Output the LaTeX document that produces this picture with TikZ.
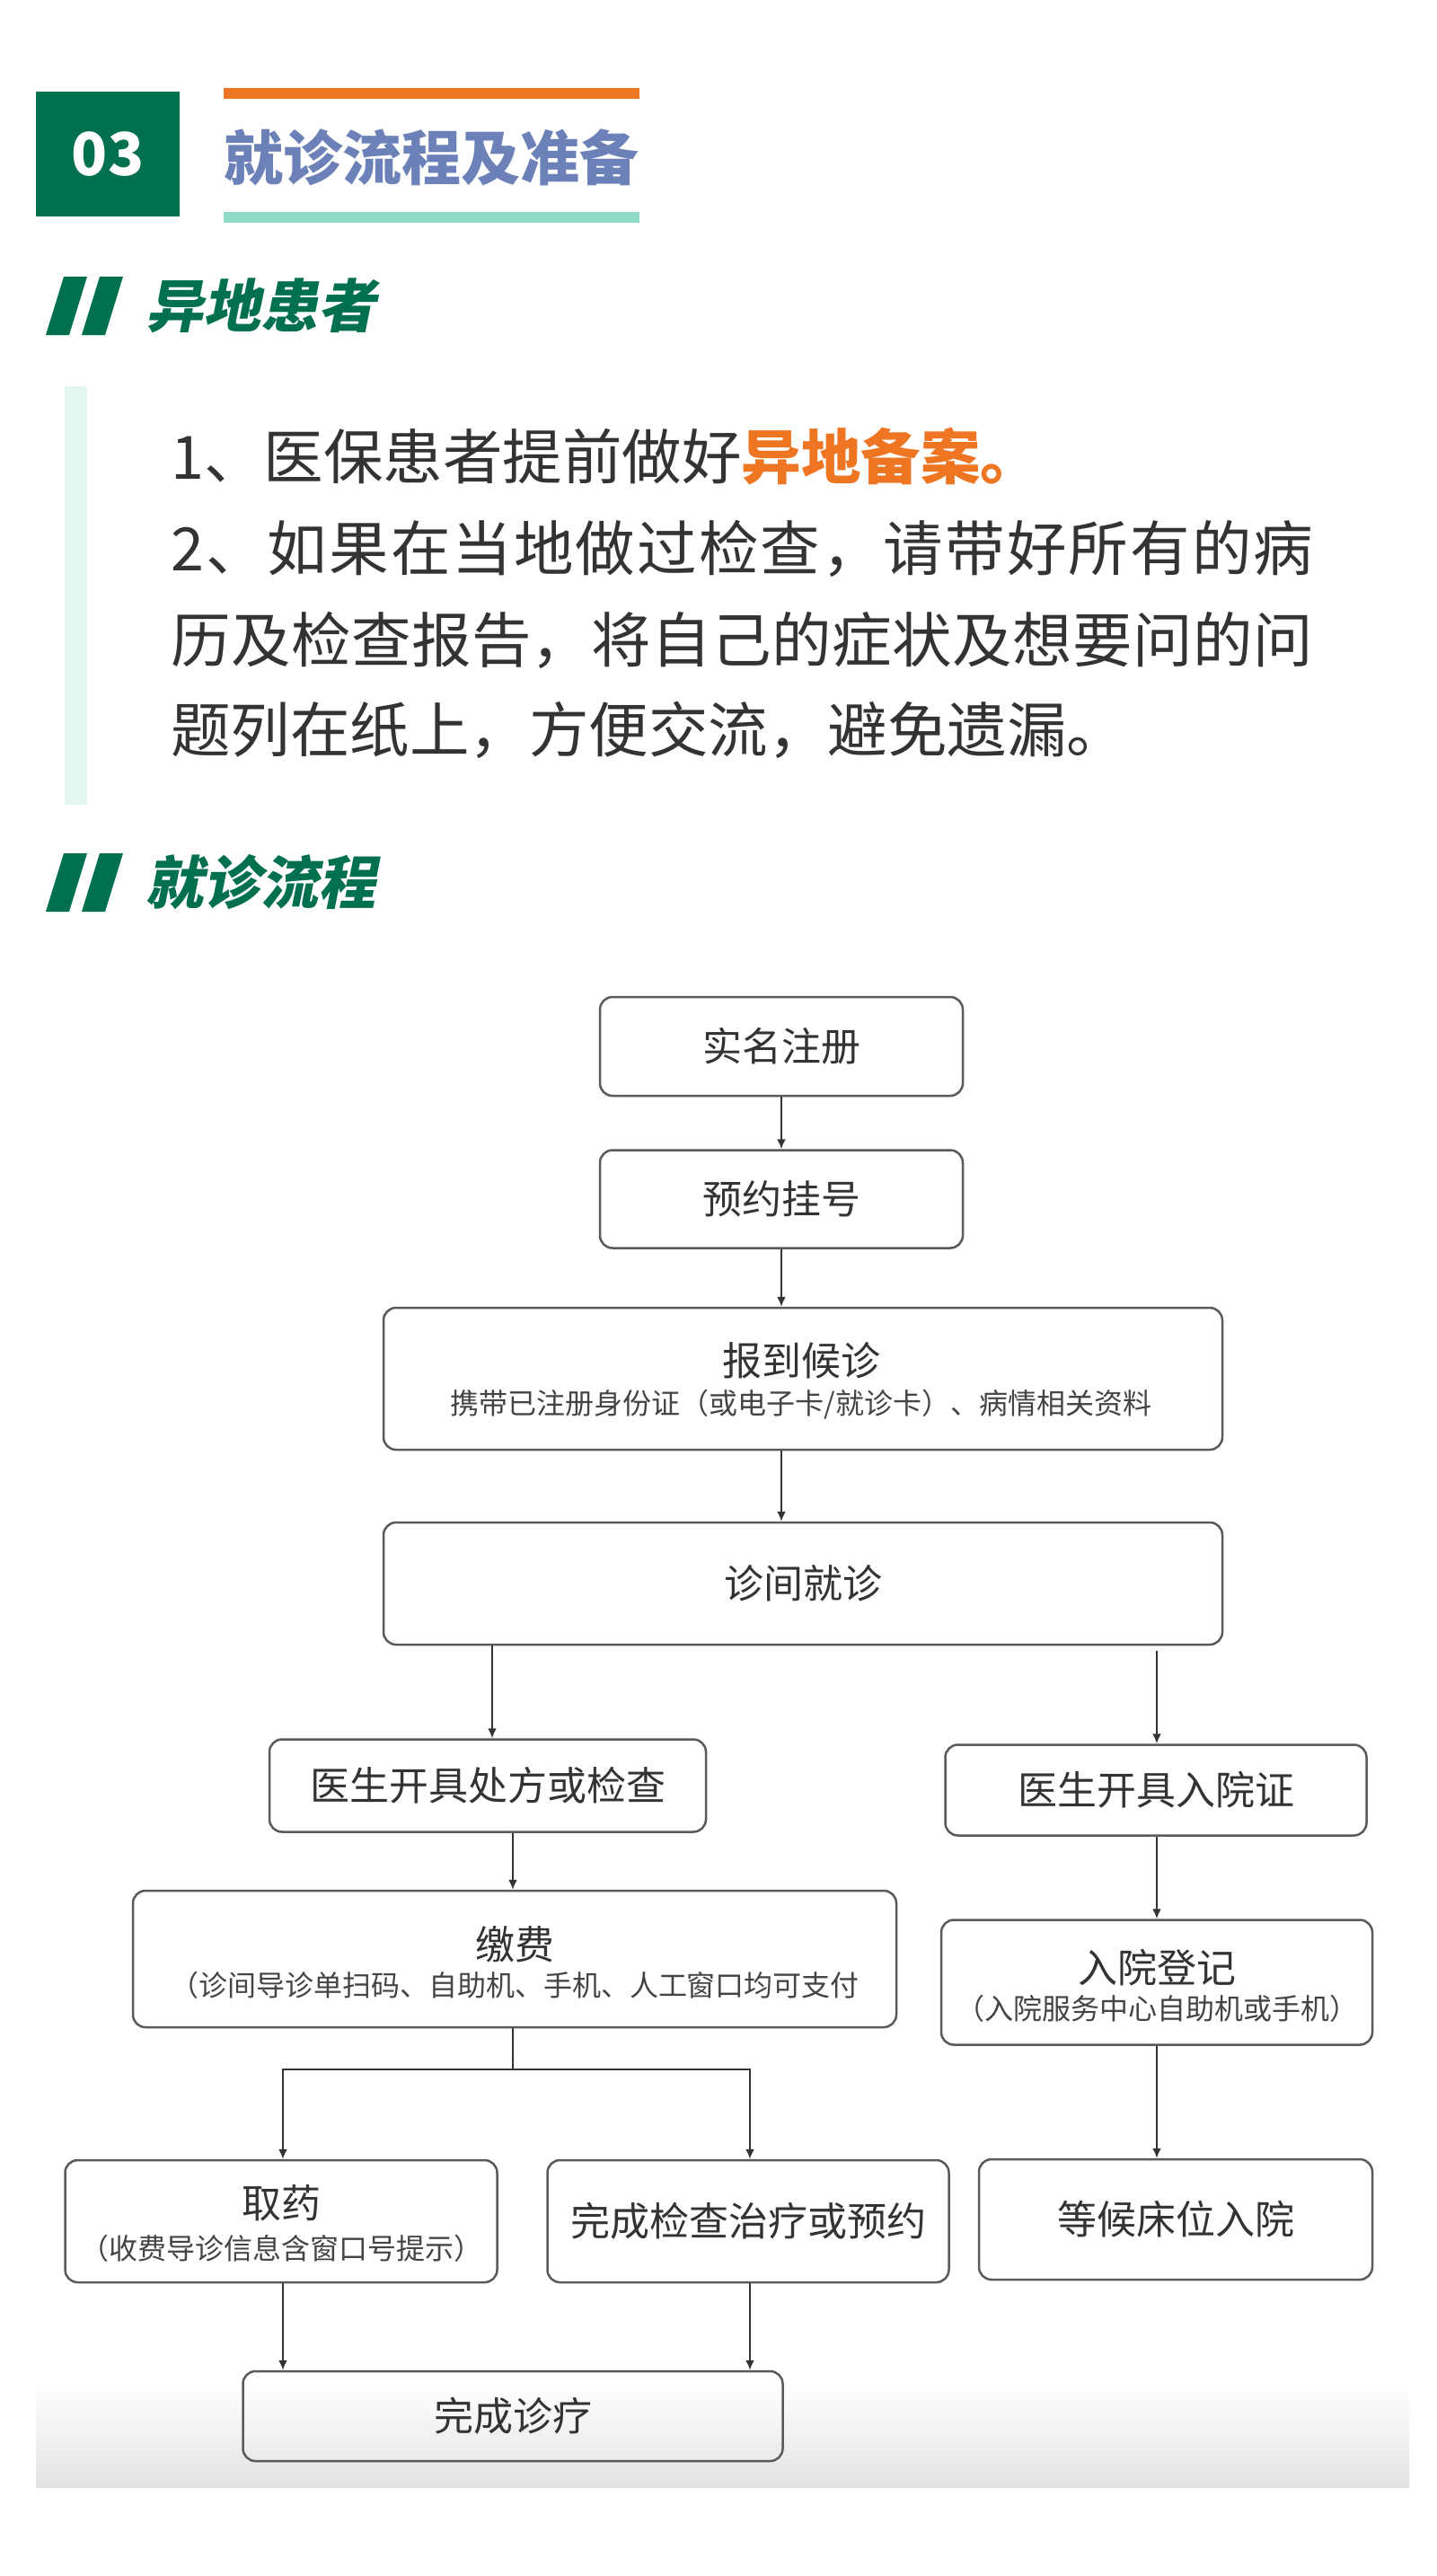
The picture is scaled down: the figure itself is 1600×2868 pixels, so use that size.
\documentclass[tikz,border=0pt]{standalone}
\usepackage{fontspec}
\newfontfamily\cjk{Noto Sans CJK SC}
\newfontfamily\cjkslant{Noto Sans CJK SC}[FakeSlant=0.2]
\usetikzlibrary{arrows.meta}
\definecolor{dgreen}{HTML}{00704F}
\definecolor{lav}{HTML}{6C81B7}
\definecolor{orng}{HTML}{EE7623}
\definecolor{teal}{HTML}{8EDCC7}
\definecolor{pale}{HTML}{E6F6F3}
\definecolor{txt}{HTML}{333333}
\definecolor{subtxt}{HTML}{444444}
\definecolor{boxgray}{HTML}{5A5A5A}
\definecolor{linec}{HTML}{333333}
\definecolor{fadegray}{HTML}{E2E2E2}
\newcommand{\myfs}[1]{\fontsize{#1}{#1}\selectfont}
\newcommand{\gp}{\hspace{0pt plus 1fil}}
\tikzset{
  box/.style={draw=boxgray, line width=2.5pt, rounded corners=14pt, inner sep=0pt, font=\cjk\myfs{44}, text=txt},
  ttl/.style={inner sep=0pt, font=\cjk\myfs{44}, text=txt},
  subt/.style={inner sep=0pt, font=\cjk\myfs{32}, text=subtxt},
  arr/.style={draw=linec, line width=2pt, -{Latex[length=11pt,width=10pt]}},
  plain/.style={draw=linec, line width=2pt},
  body/.style={inner sep=0pt, anchor=base west, font=\cjk\myfs{66.5}, text=txt},
  head/.style={inner sep=0pt, anchor=west, font=\cjkslant\bfseries\myfs{64}, text=dgreen},
}
\begin{document}
\begin{tikzpicture}[x=1pt,y=-1pt]
\useasboundingbox (0,0) rectangle (1600,2868);
\fill[white] (0,0) rectangle (1600,2868);

% ---------- header ----------
\fill[dgreen] (40,102) rectangle (200,241);
\node[inner sep=0pt, font=\cjk\bfseries\myfs{66}, text=white] (num) at (120,172) {03};
\fill[orng] (249,98) rectangle (712,110);
\fill[teal] (249,236) rectangle (712,248);
\node[inner sep=0pt, anchor=west, font=\cjk\bfseries\myfs{66}, text=lav] (title) at (249,175) {就诊流程及准备};

% ---------- heading 1 ----------
\fill[dgreen] (51,373) -- (77,373) -- (97,308) -- (71,308) -- cycle;
\fill[dgreen] (91,373) -- (117,373) -- (137,308) -- (111,308) -- cycle;
\node[head] (h1) at (162,340) {异地患者};

% ---------- text block ----------
\fill[pale] (72,430) rectangle (97,896);
\node[body] (l1) at (190,533) {1、医保患者提前做好\textcolor{orng}{\bfseries 异地备案。}};
\node[body] (l2) at (190,635) {\makebox[1272pt][s]{2\gp 、\gp 如\gp 果\gp 在\gp 当\gp 地\gp 做\gp 过\gp 检\gp 查\gp ，\gp 请\gp 带\gp 好\gp 所\gp 有\gp 的\gp 病}};
\node[body] (l3) at (190,737) {\makebox[1272pt][s]{历\gp 及\gp 检\gp 查\gp 报\gp 告\gp ，\gp 将\gp 自\gp 己\gp 的\gp 症\gp 状\gp 及\gp 想\gp 要\gp 问\gp 的\gp 问}};
\node[body] (l4) at (190,837) {题列在纸上，方便交流，避免遗漏。};

% ---------- heading 2 ----------
\fill[dgreen] (51,1015) -- (77,1015) -- (97,950) -- (71,950) -- cycle;
\fill[dgreen] (91,1015) -- (117,1015) -- (137,950) -- (111,950) -- cycle;
\node[head] (h2) at (162,982) {就诊流程};

% ---------- bottom fade ----------
\shade[top color=white, bottom color=fadegray] (40,2655) rectangle (1569,2769);

% ---------- flowchart boxes ----------
\node[box, minimum width=404pt, minimum height=110pt] (n1) at (870,1165) {实名注册};
\node[box, minimum width=404pt, minimum height=109pt] (n2) at (870,1335) {预约挂号};
\node[box, minimum width=934pt, minimum height=158pt] (n3) at (894,1535) {};
\node[ttl] (n3t) at (892,1515) {报到候诊};
\node[subt] (n3s) at (892,1564) {携带已注册身份证（或电子卡/就诊卡）、病情相关资料};
\node[box, minimum width=934pt, minimum height=136pt] (n4) at (894,1763) {诊间就诊};
\node[box, minimum width=486pt, minimum height=103pt] (n5) at (543,1988) {医生开具处方或检查};
\node[box, minimum width=469pt, minimum height=101pt] (n6) at (1287,1993) {医生开具入院证};
\node[box, minimum width=850pt, minimum height=152pt] (n7) at (573,2181) {};
\node[ttl] (n7t) at (573,2165) {缴费};
\node[subt] (n7s) at (573,2210) {（诊间导诊单扫码、自助机、手机、人工窗口均可支付};
\node[box, minimum width=480pt, minimum height=139pt] (n8) at (1288,2207) {};
\node[ttl] (n8t) at (1288,2191) {入院登记};
\node[subt] (n8s) at (1288,2236) {（入院服务中心自助机或手机）};
\node[box, minimum width=481pt, minimum height=136pt] (n9) at (313,2473) {};
\node[ttl] (n9t) at (313,2453) {取药};
\node[subt] (n9s) at (313,2503) {（收费导诊信息含窗口号提示）};
\node[box, minimum width=447pt, minimum height=136pt] (n10) at (833,2473) {完成检查治疗或预约};
\node[box, minimum width=438pt, minimum height=134pt] (n11) at (1309,2471) {等候床位入院};
\node[box, minimum width=601pt, minimum height=100pt] (n12) at (571,2690) {完成诊疗};

% ---------- connector x positions ----------
\coordinate (xa) at (870,0);
\coordinate (xb) at (548,0);
\coordinate (xc) at (1288,0);
\coordinate (xd) at (571,0);
\coordinate (xf) at (315,0);
\coordinate (xg) at (835,0);
\coordinate (split) at (571,2304);

% ---------- connectors ----------
\draw[arr] (n1.south -| xa) -- (n2.north -| xa);
\draw[arr] (n2.south -| xa) -- (n3.north -| xa);
\draw[arr] (n3.south -| xa) -- (n4.north -| xa);
\draw[arr] (n4.south -| xb) -- (n5.north -| xb);
\draw[arr, shorten <=6pt] (n4.south -| xc) -- (n6.north -| xc);
\draw[arr] (n5.south -| xd) -- (n7.north -| xd);
\draw[arr] (n6.south -| xc) -- (n8.north -| xc);
\draw[plain] (n7.south -| xd) -- (split);
\draw[arr] (split) -| (n9.north -| xf);
\draw[arr] (split) -| (n10.north -| xg);
\draw[arr] (n8.south -| xc) -- (n11.north -| xc);
\draw[arr] (n9.south -| xf) -- (n12.north -| xf);
\draw[arr] (n10.south -| xg) -- (n12.north -| xg);
\end{tikzpicture}
\end{document}
